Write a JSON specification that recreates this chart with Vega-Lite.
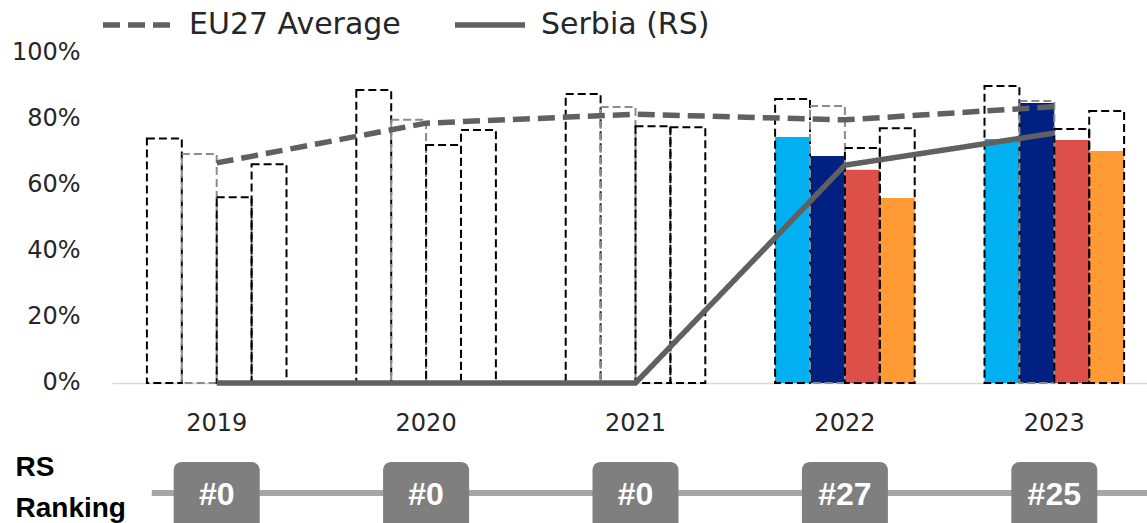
{
  "$schema": "https://vega.github.io/schema/vega-lite/v6.json",
  "width": 1035,
  "height": 471,
  "autosize": {"type": "none"},
  "padding": {"left": 112, "top": 52, "right": 0, "bottom": 0},
  "background": "white",
  "config": {"view": {"stroke": null}, "font": "DejaVu Sans"},
  "datasets": {
    "bars": [
      {"year": "2019", "ind": "A", "rs": 0, "eu": 0.739},
      {"year": "2019", "ind": "B", "rs": 0, "eu": 0.692},
      {"year": "2019", "ind": "C", "rs": 0, "eu": 0.561},
      {"year": "2019", "ind": "D", "rs": 0, "eu": 0.661},
      {"year": "2020", "ind": "A", "rs": 0, "eu": 0.885},
      {"year": "2020", "ind": "B", "rs": 0, "eu": 0.795},
      {"year": "2020", "ind": "C", "rs": 0, "eu": 0.719},
      {"year": "2020", "ind": "D", "rs": 0, "eu": 0.764},
      {"year": "2021", "ind": "A", "rs": 0, "eu": 0.873},
      {"year": "2021", "ind": "B", "rs": 0, "eu": 0.834},
      {"year": "2021", "ind": "C", "rs": 0, "eu": 0.776},
      {"year": "2021", "ind": "D", "rs": 0, "eu": 0.773},
      {"year": "2022", "ind": "A", "rs": 0.743, "eu": 0.858},
      {"year": "2022", "ind": "B", "rs": 0.686, "eu": 0.837},
      {"year": "2022", "ind": "C", "rs": 0.644, "eu": 0.71},
      {"year": "2022", "ind": "D", "rs": 0.559, "eu": 0.77},
      {"year": "2023", "ind": "A", "rs": 0.737, "eu": 0.897},
      {"year": "2023", "ind": "B", "rs": 0.846, "eu": 0.852},
      {"year": "2023", "ind": "C", "rs": 0.734, "eu": 0.767},
      {"year": "2023", "ind": "D", "rs": 0.701, "eu": 0.822}
    ],
    "lines": [
      {"year": "2019", "series": "EU27 Average", "value": 0.665},
      {"year": "2020", "series": "EU27 Average", "value": 0.785},
      {"year": "2021", "series": "EU27 Average", "value": 0.812},
      {"year": "2022", "series": "EU27 Average", "value": 0.795},
      {"year": "2023", "series": "EU27 Average", "value": 0.835},
      {"year": "2019", "series": "Serbia (RS)", "value": 0},
      {"year": "2020", "series": "Serbia (RS)", "value": 0},
      {"year": "2021", "series": "Serbia (RS)", "value": 0},
      {"year": "2022", "series": "Serbia (RS)", "value": 0.658},
      {"year": "2023", "series": "Serbia (RS)", "value": 0.755}
    ],
    "ranks": [
      {"year": "2019", "label": "#0"},
      {"year": "2020", "label": "#0"},
      {"year": "2021", "label": "#0"},
      {"year": "2022", "label": "#27"},
      {"year": "2023", "label": "#25"}
    ]
  },
  "layer": [
    {
      "data": {"name": "bars"},
      "mark": {"type": "bar"},
      "encoding": {
        "x": {
          "field": "year", "type": "nominal",
          "scale": {"domain": ["2019", "2020", "2021", "2022", "2023"], "range": [0, 1047], "paddingInner": 0, "paddingOuter": 0},
          "axis": {"title": null, "offset": -140, "ticks": false, "domainColor": "#D9D9D9", "domainWidth": 1.5, "labelFontSize": 24, "labelColor": "#262626", "labelPadding": 28, "labelAngle": 0}
        },
        "xOffset": {"field": "ind", "type": "nominal", "scale": {"paddingInner": 0, "paddingOuter": 1.08}},
        "y": {
          "field": "rs", "type": "quantitative",
          "scale": {"domain": [-0.423, 1], "nice": false, "zero": false},
          "axis": {
            "title": null, "grid": false, "domain": false, "ticks": false, "tickSize": 0,
            "values": [0, 0.2, 0.4, 0.6, 0.8, 1, -0.254],
            "labelExpr": "datum.value < 0 ? ['RS', 'Ranking'] : format(datum.value, '.0%')",
            "labelOverlap": false, "labelFlush": false, "labelBound": false,
            "labelLineHeight": 41,
            "labelFontSize": {"condition": {"test": "datum.value < 0", "value": 28}, "value": 24},
            "labelFont": {"condition": {"test": "datum.value < 0", "value": "Liberation Sans Narrow, Liberation Sans, sans-serif"}, "value": "DejaVu Sans"},
            "labelFontWeight": {"condition": {"test": "datum.value < 0", "value": "bold"}, "value": "normal"},
            "labelAlign": {"condition": {"test": "datum.value < 0", "value": "left"}, "value": "right"},
            "labelPadding": {"condition": {"test": "datum.value < 0", "value": 97}, "value": 32},
            "labelColor": {"condition": {"test": "datum.value < 0", "value": "#000000"}, "value": "#262626"}
          }
        },
        "color": {"field": "ind", "type": "nominal", "scale": {"domain": ["A", "B", "C", "D"], "range": ["#00B0F0", "#002082", "#DD504A", "#FF9A35"]}, "legend": null}
      }
    },
    {
      "data": {"name": "bars"},
      "mark": {"type": "bar", "fill": "transparent", "strokeWidth": 2, "strokeDash": [8, 4]},
      "encoding": {
        "x": {"field": "year", "type": "nominal"},
        "xOffset": {"field": "ind", "type": "nominal"},
        "y": {"field": "eu", "type": "quantitative"},
        "stroke": {"condition": {"test": "datum.ind === 'B'", "value": "#8C8C8C"}, "value": "#000000"}
      }
    },
    {
      "data": {"name": "lines"},
      "mark": {"type": "line", "strokeWidth": 5.5, "color": "#606060", "strokeCap": "butt"},
      "encoding": {
        "x": {"field": "year", "type": "nominal"},
        "y": {"field": "value", "type": "quantitative"},
        "strokeDash": {
          "field": "series", "type": "nominal",
          "scale": {"domain": ["EU27 Average", "Serbia (RS)"], "range": [[17, 8], [1, 0]]},
          "legend": {
            "title": null, "orient": "none", "direction": "horizontal", "legendX": -12, "legendY": -65,
            "symbolType": "stroke", "symbolStrokeWidth": 5.5, "symbolStrokeColor": "#606060", "symbolSize": 4900,
            "labelFontSize": 30, "labelFont": "DejaVu Sans", "labelColor": "#262626", "labelOffset": 13, "columnPadding": 43, "labelLimit": 400
          }
        }
      }
    },
    {
      "data": {"values": [{}]},
      "mark": {"type": "rule", "strokeWidth": 6, "color": "#A6A6A6"},
      "encoding": {
        "x": {"datum": "2019", "type": "nominal", "bandPosition": 0.19},
        "x2": {"datum": "2023", "bandPosition": 1},
        "y": {"datum": -0.332, "type": "quantitative"}
      }
    },
    {
      "data": {"name": "ranks"},
      "mark": {"type": "bar", "width": 86, "cornerRadius": 8, "color": "#7F7F7F"},
      "encoding": {
        "x": {"field": "year", "type": "nominal"},
        "y": {"datum": -0.239, "type": "quantitative"},
        "y2": {"datum": -0.48}
      }
    },
    {
      "data": {"name": "ranks"},
      "mark": {"type": "text", "color": "white", "fontWeight": "bold", "fontSize": 32, "font": "Liberation Sans Narrow, Liberation Sans, sans-serif", "baseline": "middle"},
      "encoding": {
        "x": {"field": "year", "type": "nominal"},
        "y": {"datum": -0.338, "type": "quantitative"},
        "text": {"field": "label"}
      }
    }
  ]
}
